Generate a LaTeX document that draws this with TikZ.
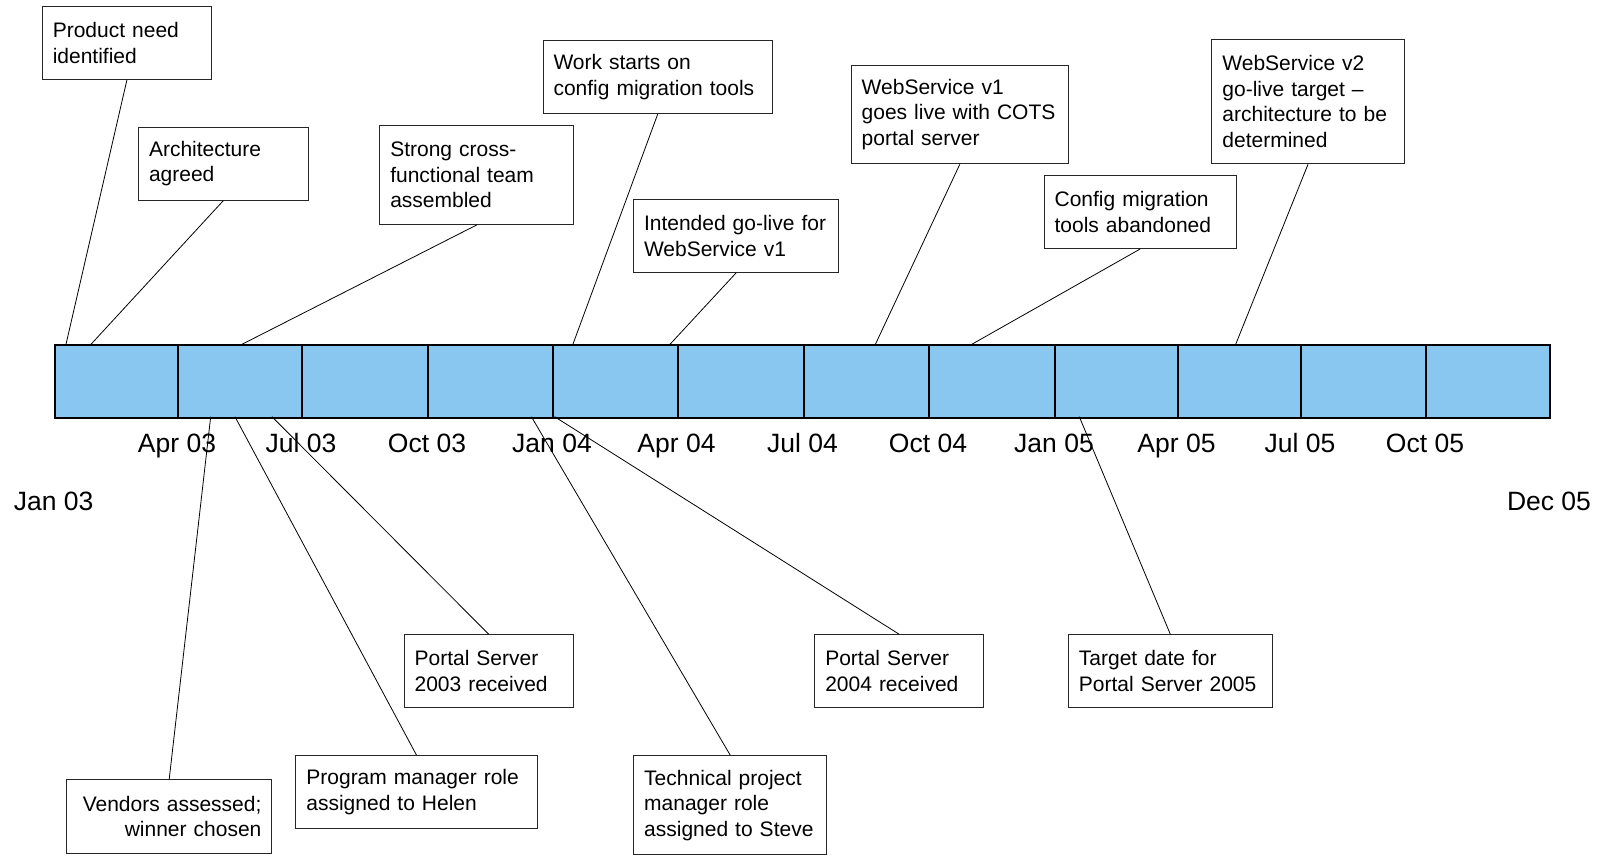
\documentclass[tikz,border=0pt]{standalone}
\usepackage{fontspec}
\setmainfont{Liberation Sans}
\definecolor{barblue}{RGB}{137,199,240}

\begin{document}
\begin{tikzpicture}[x=1pt,y=-1pt,
    evt/.style={draw=black!85, line width=1pt, fill=white, inner xsep=10.5pt, inner ysep=2pt,
      align=left, anchor=north west, font={\fontsize{21}{25.5}\selectfont}},
    seg/.style={draw, line width=2pt, fill=barblue, minimum height=72.4pt,
      inner sep=0pt, anchor=north west},
    datelbl/.style={anchor=base, font={\fontsize{26.5}{30}\selectfont}},
    conn/.style={line width=0.8pt}]
    \useasboundingbox (0,0) rectangle (1604,855);
    \foreach \a/\b [count=\i from 0] in {53.6/177,177/301,301/427,427/552,552/676.5,676.5/802.5,
        802.5/928,928/1054,1054/1176.5,1176.5/1300,1300/1425,1425/1549}
        \node[seg, minimum width={(\b-\a)*1pt}] (s\i) at (\a,344.3) {};
    \foreach \x/\lab [count=\i] in {177/Apr 03,301/Jul 03,427/Oct 03,552/Jan 04,676.5/Apr 04,802.5/Jul 04,
        928/Oct 04,1054/Jan 05,1176.5/Apr 05,1300/Jul 05,1425/Oct 05}
        \node[datelbl] (d\i) at (\x,452.3) {\lab};
    \node[datelbl] (d0) at (53.6,510) {Jan 03};
    \node[datelbl] (d12) at (1549,510) {Dec 05};
    \coordinate (t1) at (66,344.3);
    \coordinate (t2) at (91,344.3);
    \coordinate (t3) at (242,344.3);
    \coordinate (t4) at (572.9,344.3);
    \coordinate (t5) at (670,344.3);
    \coordinate (t6) at (875.4,344.3);
    \coordinate (t7) at (971.8,344.3);
    \coordinate (t8) at (1235.7,344.3);
    \coordinate (u9) at (272,416.7);
    \coordinate (u10) at (235,416.7);
    \coordinate (u11) at (210.7,416.7);
    \coordinate (u12) at (531.4,416.7);
    \coordinate (u13) at (554.6,416.7);
    \coordinate (u14) at (1079.3,416.7);
    \node[evt, text width=148.2pt, minimum height=73.3pt] (ev1) at (41.8,5.7) {Product need\\identified};
    \node[evt, text width=148.5pt, minimum height=73pt] (ev2) at (138,126.7) {Architecture\\agreed};
    \node[evt, text width=172.6pt, minimum height=98.7pt] (ev3) at (379.3,125.3) {Strong cross-\\functional team\\assembled};
    \node[evt, text width=208.5pt, minimum height=73pt] (ev4) at (542.5,40) {Work starts on\\config migration tools};
    \node[evt, text width=184pt, minimum height=73pt] (ev5) at (633,199) {Intended go-live for\\WebService v1};
    \node[evt, text width=196.2pt, minimum height=98.6pt] (ev6) at (850.7,64.7) {WebService v1\\goes live with COTS\\portal server};
    \node[evt, text width=171.1pt, minimum height=73.3pt] (ev7) at (1043.6,174.7) {Config migration\\tools abandoned};
    \node[evt, text width=171.2pt, minimum height=124.6pt] (ev8) at (1211.4,38.7) {WebService v2\\go-live target --\\architecture to be\\determined};
    \node[evt, text width=148.3pt, minimum height=72.7pt] (ev9) at (403.6,634.3) {Portal Server\\2003 received};
    \node[evt, text width=220.4pt, minimum height=72.7pt] (ev10) at (295.4,755.3) {Program manager role\\assigned to Helen};
    \node[evt, text width=184.4pt, minimum height=73.4pt, align=right] (ev11) at (66,779.3) {Vendors assessed;\\winner chosen};
    \node[evt, text width=172.2pt, minimum height=98.7pt] (ev12) at (633.2,755.3) {Technical project\\manager role\\assigned to Steve};
    \node[evt, text width=147.9pt, minimum height=72.7pt] (ev13) at (814.3,634.3) {Portal Server\\2004 received};
    \node[evt, text width=182.9pt, minimum height=72.7pt] (ev14) at (1067.9,634.3) {Target date for\\Portal Server 2005};
    \foreach \i in {1,...,8}
        \draw[conn] (ev\i.south) -- (t\i);
    \foreach \i in {9,...,14}
        \draw[conn] (ev\i.north) -- (u\i);
\end{tikzpicture}
\end{document}
